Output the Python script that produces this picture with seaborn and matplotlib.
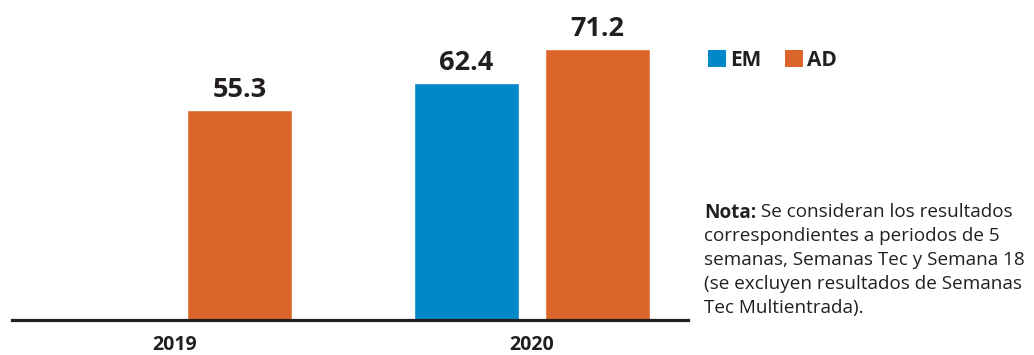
import matplotlib
matplotlib.use("Agg")
import matplotlib.pyplot as plt
import seaborn as sns
import pandas as pd
from matplotlib.patches import Patch

years = ["2019", "2020"]
series = ["EM", "AD"]
em_values = [None, 62.4]
ad_values = [55.3, 71.2]
colors = {"EM": "#0088C9", "AD": "#DC652C"}
note_bold = "Nota:"
note_first = " Se consideran los resultados"
note_rest = ("correspondientes a periodos de 5\n"
             "semanas, Semanas Tec y Semana 18\n(se excluyen resultados de Semanas\n"
             "Tec Multientrada).")

rows = []
for y, e, a in zip(years, em_values, ad_values):
    if e is not None:
        rows.append({"year": y, "serie": "EM", "value": e})
    if a is not None:
        rows.append({"year": y, "serie": "AD", "value": a})
df = pd.DataFrame(rows)

sns.set_theme(style="white")
plt.rcParams["font.family"] = ["Open Sans", "DejaVu Sans"]
TXT = "#231F20"

fig = plt.figure(figsize=(10.34, 3.55), dpi=100)
ax = fig.add_axes([12 / 1034, 35 / 355, 676 / 1034, 320 / 355])

sns.barplot(data=df, x="year", y="value", hue="serie", hue_order=series,
            order=years, palette=colors, width=0.732, gap=0.198,
            saturation=1, legend=False, ax=ax, errorbar=None)

for cont in ax.containers:
    ax.bar_label(cont, fmt="%.1f", padding=5, fontsize=19.5,
                 fontweight="bold", color=TXT)

ax.set_xlim(-0.453, 1.436)
ax.set_ylim(0, 84.1)
ax.set_xlabel("")
ax.set_ylabel("")
ax.set_yticks([])
for s in ["top", "right", "left"]:
    ax.spines[s].set_visible(False)
ax.spines["bottom"].set_linewidth(2.3)
ax.spines["bottom"].set_color(TXT)
ax.tick_params(axis="x", length=0, pad=11, labelsize=14, colors=TXT)
for lbl in ax.get_xticklabels():
    lbl.set_fontweight("bold")

handles = [Patch(facecolor=colors[s], edgecolor="none", label=s) for s in series]
fig.legend(handles=handles, loc="center left", bbox_to_anchor=(700 / 1034, 1 - 60 / 355),
           ncol=2, frameon=False, handlelength=0.85, handleheight=0.85,
           handletextpad=0.2, columnspacing=1.15, borderaxespad=0,
           prop={"weight": "bold", "size": 15})
for t in fig.legends[0].get_texts():
    t.set_color(TXT)

NS = 13.6
x0 = 704 / 1034
y0 = 1 - 203 / 355
tb = fig.text(x0, y0, note_bold, fontsize=NS, fontweight="bold",
              color=TXT, va="top", ha="left")
fig.canvas.draw()
bb = tb.get_window_extent(renderer=fig.canvas.get_renderer())
x1 = bb.x1 / fig.bbox.width
fig.text(x1, y0, note_first, fontsize=NS, color=TXT, va="top", ha="left")
fig.text(x0, y0 - 24 / 355, note_rest, fontsize=NS, color=TXT, va="top",
         ha="left", linespacing=1.43)

fig.savefig("out.png", dpi=100)
